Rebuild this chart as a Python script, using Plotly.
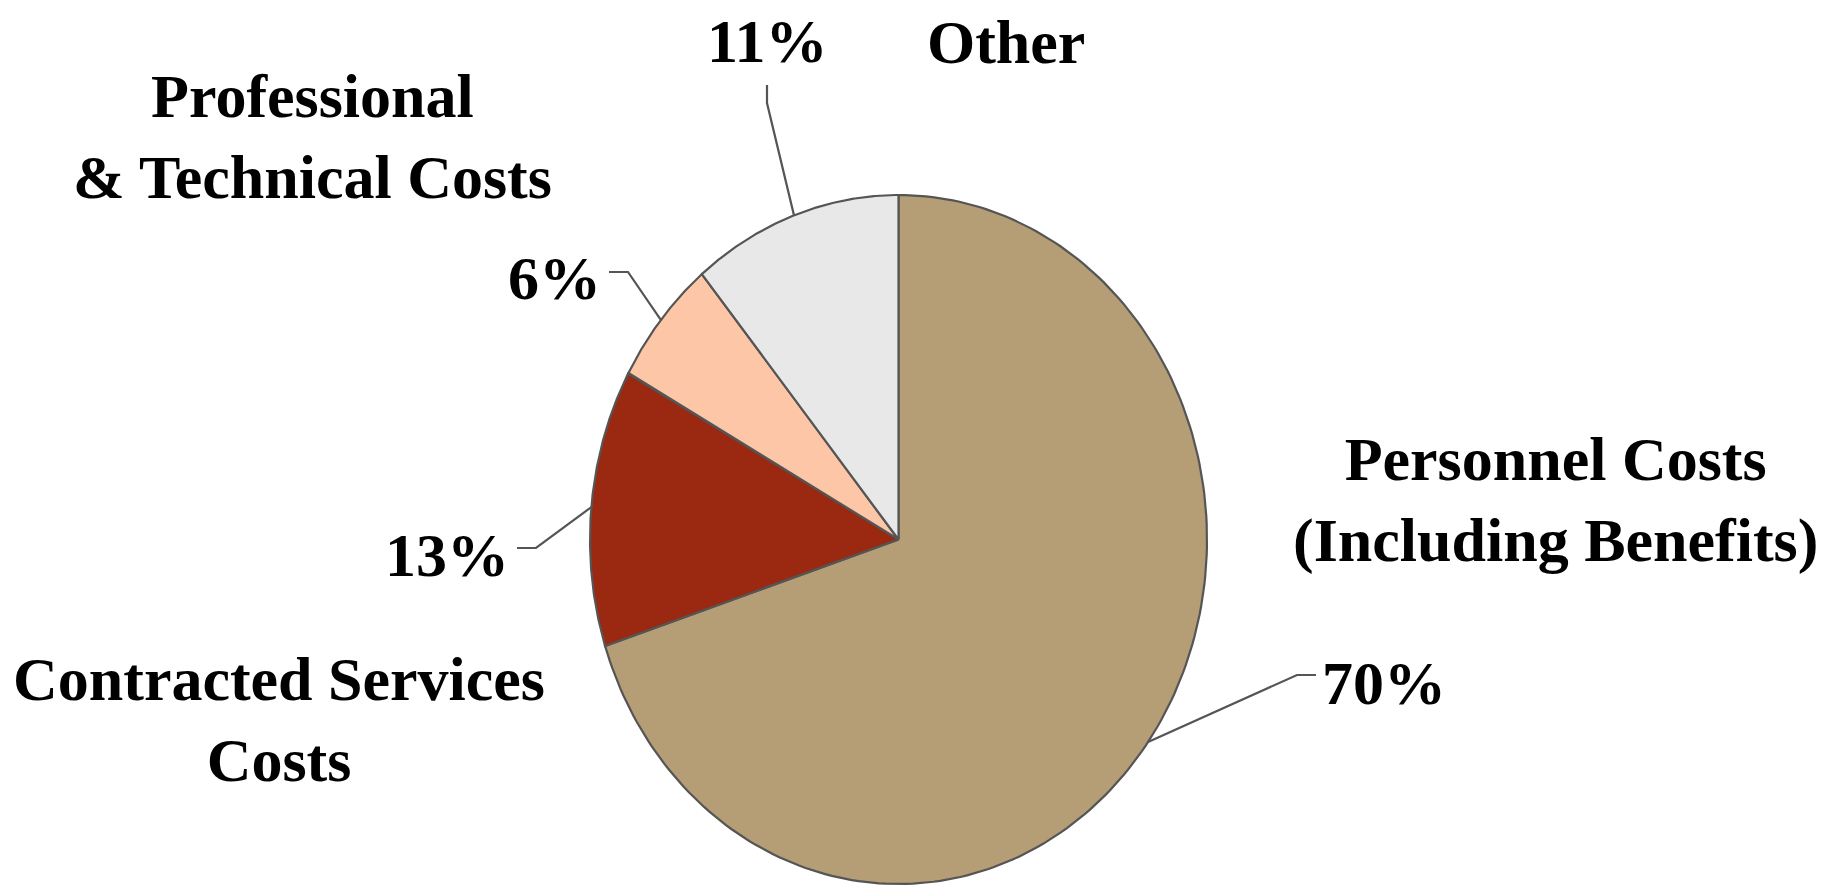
import numpy as np
import plotly.graph_objects as go

# ---- data ----
categories = ["Personnel Costs<br>(Including Benefits)", "Contracted Services<br>Costs",
              "Professional<br>& Technical Costs", "Other"]
values = [70, 13, 6, 11]
pct_labels = ["70%", "13%", "6%", "11%"]
colors = ["#B59D76", "#9B2810", "#FDC6A6", "#E8E8E8"]

# ---- layout constants (page pixels) ----
W, H = 1832, 888
CX, CY, RX, RY = 898.5, 539.5, 308.5, 344.5
FONT = dict(family="Liberation Serif, Times New Roman, serif", size=62, color="#000000", weight="bold")
OUTLINE = "#555555"

# label positions (center x, center y)
name_pos = [(1555, 500), (279, 719), (312, 136), (1006, 42)]
pct_pos = [(1384, 683), (447, 555), (554, 278), (767, 41)]
# leader line elbows and ends
leader_elbow = [(1297, 675), (536, 548), (628, 272), (767, 103)]
leader_end = [(1316, 675), (517, 548), (609, 272), (767, 85)]


def px_to_data(px, py):
    return (px - CX) / RX, (CY - py) / RY


def px_to_paper(px, py):
    return px / W, 1 - py / H


fig = go.Figure()

total = float(sum(values))
start = 0.0
mids = []
for v, c, name in zip(values, colors, categories):
    frac0 = start / total
    frac1 = (start + v) / total
    th = np.linspace(frac0, frac1, 200) * 2 * np.pi
    xs = np.concatenate([[0], np.sin(th), [0]])
    ys = np.concatenate([[0], np.cos(th), [0]])
    fig.add_trace(go.Scatter(x=xs, y=ys, mode="lines", fill="toself", fillcolor=c,
                             line=dict(color=OUTLINE, width=2.2), hoverinfo="text",
                             text=name.replace("<br>", " "), showlegend=False))
    mids.append((frac0 + frac1) / 2 * 2 * np.pi)
    start += v

# leader lines
for m, el, en in zip(mids, leader_elbow, leader_end):
    ex, ey = px_to_data(*el)
    nx, ny = px_to_data(*en)
    fig.add_trace(go.Scatter(x=[np.sin(m), ex, nx], y=[np.cos(m), ey, ny], mode="lines",
                             line=dict(color=OUTLINE, width=2.2), hoverinfo="skip", showlegend=False))

annotations = []
for name, pos in zip(categories, name_pos):
    x, y = px_to_paper(*pos)
    annotations.append(dict(text=name, x=x, y=y, xref="paper", yref="paper",
                            xanchor="center", yanchor="middle", showarrow=False, font=FONT,
                            align="center"))
for p, pos in zip(pct_labels, pct_pos):
    x, y = px_to_paper(*pos)
    annotations.append(dict(text=p, x=x, y=y, xref="paper", yref="paper",
                            xanchor="center", yanchor="middle", showarrow=False, font=FONT))

fig.update_layout(
    width=W, height=H,
    margin=dict(l=0, r=0, t=0, b=0),
    paper_bgcolor="white", plot_bgcolor="white",
    xaxis=dict(range=[-CX / RX, (W - CX) / RX], visible=False, fixedrange=True),
    yaxis=dict(range=[-(H - CY) / RY, CY / RY], visible=False, fixedrange=True),
    annotations=annotations,
    showlegend=False,
)

fig.write_html("out.html", config={"displayModeBar": False},
               post_script="document.body.style.margin='0';document.body.style.overflow='hidden';")
